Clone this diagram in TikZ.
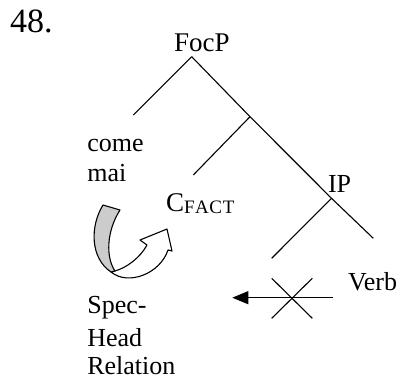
\documentclass[tikz,border=0pt]{standalone}
\usepackage{fontspec}
\setmainfont{Liberation Serif}
\usetikzlibrary{arrows.meta}
\tikzset{
  lbl/.style={anchor=base west, inner sep=0pt, outer sep=0pt, text depth=0pt, font=\fontsize{26}{30}\selectfont},
  branch/.style={line width=1.1pt},
  band/.style={line width=1.1pt, fill=black!20, line join=round},
  ribbon/.style={line width=1.1pt, fill=white, line join=round},
}
\begin{document}
\begin{tikzpicture}[x=1pt,y=-1pt]
\useasboundingbox (0,0) rectangle (403,379);
% labels
\node[lbl, font=\fontsize{34}{34}\selectfont] (num) at (10,33) {48.};
\node[lbl, font=\fontsize{27}{27}\selectfont] (focp) at (174,51.7) {FocP};
\node[lbl] (come) at (87.3,151.7) {come};
\node[lbl] (mai) at (87.3,181.7) {mai};
\node[lbl, font=\fontsize{27}{27}\selectfont] (c) at (166,211) {C\raisebox{-2.5pt}{\fontsize{19}{19}\selectfont F\kern0.6pt A\kern0.6pt C\kern0.6pt T}};
\node[lbl] (ip) at (328,192) {IP};
\node[lbl] (verb) at (348,290) {Verb};
\node[lbl] (spec) at (87.3,313.3) {Spec-};
\node[lbl] (head) at (87.3,346.7) {Head};
\node[lbl] (rel) at (87.3,374.5) {Relation};
% tree vertices
\coordinate (root) at (191.7,56.7);
\coordinate (lleaf) at (133.3,115);
\coordinate (mid) at (250,116.7);
\coordinate (cleaf) at (193.3,175);
\coordinate (ipv) at (331.5,198.3);
\coordinate (ipl) at (271.7,258.3);
\coordinate (ipr) at (373.3,238.3);
\draw[branch] (root) -- (lleaf);
\draw[branch] (root) -- (mid);
\draw[branch] (mid) -- (cleaf);
\draw[branch] (mid) -- (ipv);
\draw[branch] (ipv) -- (ipl);
\draw[branch] (ipv) -- (ipr);
% crossed arrow
\coordinate (xa) at (271.7,278.3);
\coordinate (xb) at (312.3,318.3);
\coordinate (xc) at (312.3,278.3);
\coordinate (xd) at (271.7,318.3);
\draw[branch] (xa) -- (xb);
\draw[branch] (xc) -- (xd);
\coordinate (arrstart) at (333.3,297.7);
\coordinate (arrend) at (232.3,297.7);
\draw[branch, -{Triangle[length=16pt,width=13pt]}] (arrstart) -- (arrend);
% curved ribbon arrow
\draw[ribbon] (111,272) .. controls (128,286) and (160,274) .. (168,250)
  -- (172,251) -- (167,229) -- (140,240) -- (147,245)
  .. controls (140,258) and (126,268) .. (115,271) -- cycle;
\draw[band] (103,205) .. controls (90,226) and (90,258) .. (111,272)
  -- (115,271) .. controls (106,258) and (106,232) .. (120,210) -- cycle;
\end{tikzpicture}
\end{document}
